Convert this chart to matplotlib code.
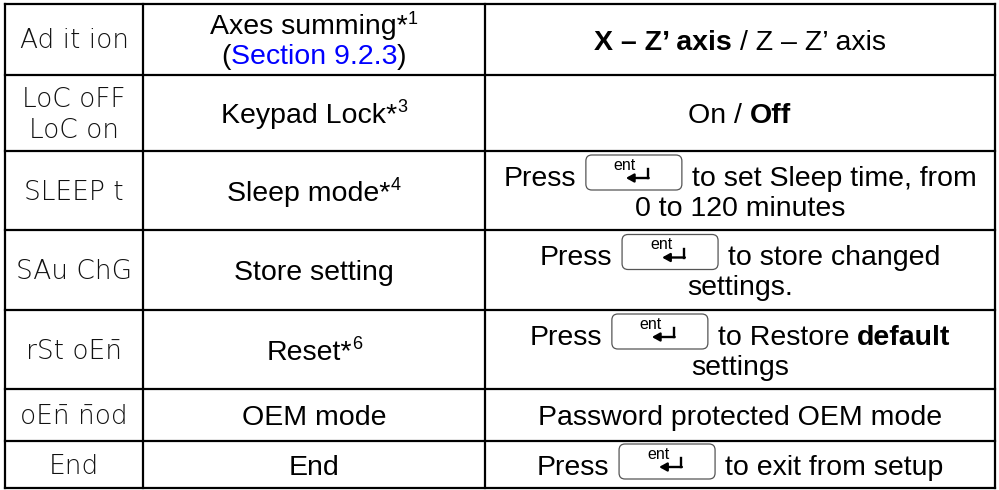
import matplotlib
matplotlib.use("Agg")
import matplotlib.pyplot as plt
from matplotlib.patches import FancyBboxPatch

# table content
codes = [["Ad it ion"], ["LoC oFF", "LoC on"], ["SLEEP t"], ["SAu ChG"],
         ["rSt oEn\u0304"], ["oEn\u0304 n\u0304od"], ["End"]]

functions = [
    [[("Axes summing*", {}), ("1", {"sup": True})],
     [("(", {}), ("Section 9.2.3", {"color": "#0000ff"}), (")", {})]],
    [[("Keypad Lock*", {}), ("3", {"sup": True})]],
    [[("Sleep mode*", {}), ("4", {"sup": True})]],
    [[("Store setting", {})]],
    [[("Reset*", {}), ("6", {"sup": True})]],
    [[("OEM mode", {})]],
    [[("End", {})]],
]

SP = ("SP", {})
KEY = ("KEY", {})
options = [
    [[("X \u2013 Z\u2019 axis", {"weight": "bold"}), SP, ("/ Z \u2013 Z\u2019 axis", {})]],
    [[("On /", {}), SP, ("Off", {"weight": "bold"})]],
    [[("Press", {}), SP, KEY, SP, ("to set Sleep time, from", {})],
     [("0 to 120 minutes", {})]],
    [[("Press", {}), SP, KEY, SP, ("to store changed", {})],
     [("settings.", {})]],
    [[("Press", {}), SP, KEY, SP, ("to Restore", {}), SP, ("default", {"weight": "bold"})],
     [("settings", {})]],
    [[("Password protected OEM mode", {})]],
    [[("Press", {}), SP, KEY, SP, ("to exit from setup", {})]],
]

row_edges = [4, 75, 151, 230, 310, 389, 441, 488]
col_edges = [5, 143, 485, 995]

FONT = "Liberation Sans"
FS = 20.5
LINE = 30
KEY_W, KEY_H = 96, 35

fig = plt.figure(figsize=(9.99, 4.9), dpi=100)
ax = fig.add_axes([0, 0, 1, 1])
ax.set_xlim(0, 999)
ax.set_ylim(490, 0)
ax.axis("off")
fig.canvas.draw()
r = fig.canvas.get_renderer()


def text_w(s, **kw):
    t = ax.text(0, 0, s, fontsize=kw.get("size", FS), family=FONT,
                fontweight=kw.get("weight", "normal"))
    w = t.get_window_extent(r).width
    t.remove()
    return w


space_w = text_w("a a") - text_w("aa")


def draw_key(x, yc):
    top = yc - KEY_H / 2 - 3
    ax.add_patch(FancyBboxPatch((x, top), KEY_W, KEY_H,
                                boxstyle="round,pad=0,rounding_size=6",
                                fc="white", ec="#555555", lw=0.9))
    ax.text(x + 39, top + 10, "ent", fontsize=11.5, family=FONT,
            ha="center", va="center")
    ax.plot([x + 62, x + 62], [top + 14, top + 23], color="black", lw=1.7)
    ax.annotate("", xy=(x + 40, top + 23), xytext=(x + 62.8, top + 23),
                arrowprops=dict(arrowstyle="-|>,head_length=0.45,head_width=0.25",
                                color="black", lw=1.7, shrinkA=0, shrinkB=0))


def rich_line(parts, xc, yc):
    widths = []
    for s, st in parts:
        if s == "SP":
            widths.append(space_w)
        elif s == "KEY":
            widths.append(KEY_W + 4)
        elif st.get("sup"):
            widths.append(text_w(s, size=13))
        else:
            widths.append(text_w(s, weight=st.get("weight", "normal")))
    x = xc - sum(widths) / 2
    base = yc + 10
    for (s, st), w in zip(parts, widths):
        if s == "KEY":
            draw_key(x + 2, yc)
        elif s != "SP":
            if st.get("sup"):
                ax.text(x, base - 11, s, fontsize=13, family=FONT,
                        ha="left", va="baseline")
            else:
                ax.text(x, base, s, fontsize=FS, family=FONT, ha="left",
                        va="baseline", color=st.get("color", "black"),
                        fontweight=st.get("weight", "normal"))
        x += w


# grid
for y in row_edges:
    ax.plot([col_edges[0], col_edges[-1]], [y, y], color="black", lw=1.6,
            solid_capstyle="projecting")
for x in col_edges:
    ax.plot([x, x], [row_edges[0], row_edges[-1]], color="black", lw=1.6,
            solid_capstyle="projecting")

centers = [(row_edges[i] + row_edges[i + 1]) / 2 for i in range(len(codes))]
cx = [(col_edges[i] + col_edges[i + 1]) / 2 for i in range(3)]

for i, yc in enumerate(centers):
    n = len(codes[i])
    for j, s in enumerate(codes[i]):
        y = yc + (j - (n - 1) / 2) * 31 - 1
        ax.text(cx[0], y, s, fontsize=19, family="DejaVu Sans",
                fontweight="light", ha="center", va="center_baseline",
                color="#111111")
    n = len(functions[i])
    for j, line in enumerate(functions[i]):
        rich_line(line, cx[1], yc + (j - (n - 1) / 2) * LINE)
    n = len(options[i])
    for j, line in enumerate(options[i]):
        rich_line(line, cx[2], yc + (j - (n - 1) / 2) * LINE)

fig.savefig("out.png", dpi=100)
